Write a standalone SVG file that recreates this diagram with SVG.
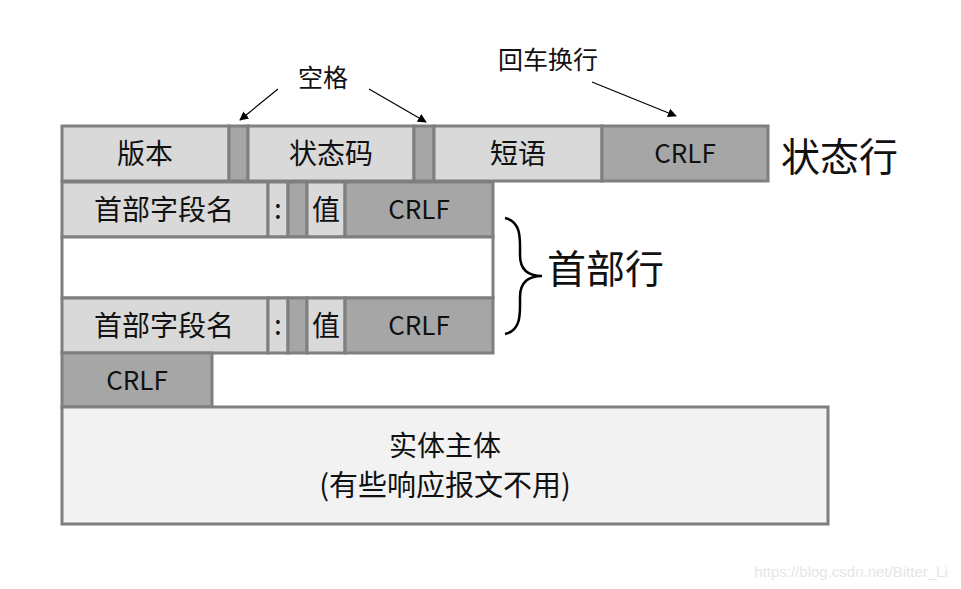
<svg xmlns="http://www.w3.org/2000/svg" width="961" height="589" viewBox="0 0 961 589">
<style>
.c{stroke:#7f7f7f;stroke-width:3}
.l{fill:#d9d9d9}
.d{fill:#a6a6a6}
.w{fill:#ffffff}
.b{fill:#f2f2f2}
text{font-family:"Noto Sans CJK SC","Noto Sans",sans-serif;fill:#111;text-anchor:middle}
.t{font-size:28px}
.k{font-size:26px}
.big{font-size:39px;text-anchor:start}
.lab{font-size:25px}
.ar{stroke:#000;stroke-width:1.2;fill:none}
</style>
<defs>
<marker id="ah" viewBox="0 0 10 10" refX="9" refY="5" markerWidth="9" markerHeight="9" markerUnits="userSpaceOnUse" orient="auto"><path d="M0,0L10,5L0,10z" fill="#000"/></marker>
</defs>
<rect width="961" height="589" fill="#fff"/>
<g id="status-line">
<rect class="c l" x="62" y="126" width="167" height="55"/>
<rect class="c d" x="229" y="126" width="19" height="55"/>
<rect class="c l" x="248" y="126" width="166" height="55"/>
<rect class="c d" x="414" y="126" width="20" height="55"/>
<rect class="c l" x="434" y="126" width="168" height="55"/>
<rect class="c d" x="602" y="126" width="166" height="55"/>
<text class="t" x="145" y="164">版本</text>
<text class="t" x="331" y="164">状态码</text>
<text class="t" x="518" y="164">短语</text>
<text class="k" x="685" y="163">CRLF</text>
<text class="big" x="781" y="171">状态行</text>
</g>
<g id="header1">
<rect class="c l" x="62" y="182" width="206" height="55"/>
<rect class="c l" x="268" y="182" width="20" height="55"/>
<rect class="c d" x="288" y="182" width="19" height="55"/>
<rect class="c l" x="307" y="182" width="38" height="55"/>
<rect class="c d" x="345" y="182" width="148" height="55"/>
<text class="t" x="164" y="220">首部字段名</text>
<text class="t" x="278" y="219">:</text>
<text class="t" x="326" y="220">值</text>
<text class="k" x="419" y="219">CRLF</text>
</g>
<g id="header-gap">
<rect class="c w" x="62" y="237" width="431" height="61"/>
</g>
<g id="header2">
<rect class="c l" x="62" y="298" width="206" height="55"/>
<rect class="c l" x="268" y="298" width="20" height="55"/>
<rect class="c d" x="288" y="298" width="19" height="55"/>
<rect class="c l" x="307" y="298" width="38" height="55"/>
<rect class="c d" x="345" y="298" width="148" height="55"/>
<text class="t" x="164" y="336">首部字段名</text>
<text class="t" x="278" y="335">:</text>
<text class="t" x="326" y="336">值</text>
<text class="k" x="419" y="335">CRLF</text>
</g>
<g id="header-label">
<path d="M505,218 C522,222 520,240 520,255 C520,268 526,276 542,276 C526,276 520,284 520,297 C520,312 522,330 505,334" fill="none" stroke="#000" stroke-width="2.5"/>
<text class="big" x="547" y="283">首部行</text>
</g>
<g id="blank-crlf">
<rect class="c d" x="62" y="353" width="150" height="54"/>
<text class="k" x="137" y="390">CRLF</text>
</g>
<g id="body">
<rect class="c b" x="62" y="407" width="766" height="117"/>
<text class="t" x="445" y="456">实体主体</text>
<text class="t" x="445" y="496" style="font-size:29px">(有些响应报文不用)</text>
</g>
<g id="labels">
<text class="lab" x="323" y="87">空格</text>
<text class="lab" x="548" y="69">回车换行</text>
</g>
<g id="connectors">
<line class="ar" x1="278" y1="89" x2="240" y2="120" marker-end="url(#ah)"/>
<line class="ar" x1="369" y1="89" x2="426" y2="122" marker-end="url(#ah)"/>
<line class="ar" x1="592" y1="82" x2="676" y2="116" marker-end="url(#ah)"/>
</g>
<text x="851" y="577" style="font-family:'Liberation Sans',sans-serif;font-size:15px;fill:#e6e6e6">https://blog.csdn.net/Bitter_Li</text>
</svg>
